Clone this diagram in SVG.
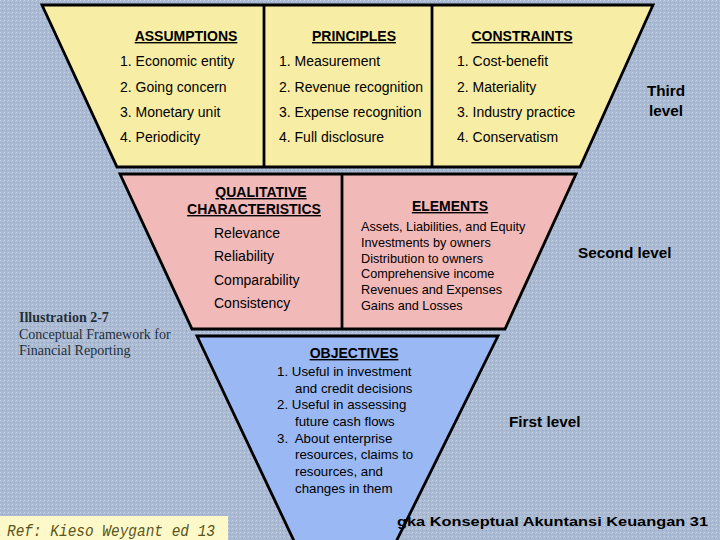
<svg xmlns="http://www.w3.org/2000/svg" width="720" height="540" viewBox="0 0 720 540">
<defs>
<pattern id="tex" width="4" height="4" patternUnits="userSpaceOnUse">
<rect width="4" height="4" fill="#abbad3"/>
<rect x="0" y="0" width="1" height="1" fill="#c6d1e3"/>
<rect x="2" y="2" width="1" height="1" fill="#93a4c0"/>
<rect x="3" y="1" width="1" height="1" fill="#bcc8dc"/>
</pattern>
</defs>
<style>
.shape{stroke:#000;stroke-width:2.8;stroke-linejoin:miter}
.hd{font-family:"Liberation Sans",Arial,sans-serif;font-size:14px;font-weight:bold;text-decoration:underline;fill:#000}
.it{font-family:"Liberation Sans",Arial,sans-serif;font-size:14px;fill:#000}
.el{font-family:"Liberation Sans",Arial,sans-serif;font-size:12.7px;fill:#000}
.ob{font-family:"Liberation Sans",Arial,sans-serif;font-size:13.3px;fill:#000;white-space:pre}
.lv{font-family:"Liberation Sans",Arial,sans-serif;font-size:15.3px;font-weight:bold;fill:#000}
.ser{font-family:"Liberation Serif","Times New Roman",serif;font-size:14px;fill:#1f2f3a}
</style>
<rect width="720" height="540" fill="url(#tex)"/>

<g id="third-level">
<polygon class="shape" points="42,5 653,5 580,167 117,167" fill="#f8eda4"/>
<line class="shape" x1="264" y1="5" x2="264" y2="167"/>
<line class="shape" x1="432" y1="5" x2="432" y2="167"/>
<text class="hd" x="186" y="41" text-anchor="middle">ASSUMPTIONS</text>
<text class="it" x="120" y="66">1. Economic entity</text>
<text class="it" x="120" y="92">2. Going concern</text>
<text class="it" x="120" y="117">3. Monetary unit</text>
<text class="it" x="120" y="142">4. Periodicity</text>
<text class="hd" x="354" y="41" text-anchor="middle">PRINCIPLES</text>
<text class="it" x="279" y="66">1. Measurement</text>
<text class="it" x="279" y="92">2. Revenue recognition</text>
<text class="it" x="279" y="117">3. Expense recognition</text>
<text class="it" x="279" y="142">4. Full disclosure</text>
<text class="hd" x="522" y="41" text-anchor="middle">CONSTRAINTS</text>
<text class="it" x="457" y="66">1. Cost-benefit</text>
<text class="it" x="457" y="92">2. Materiality</text>
<text class="it" x="457" y="117">3. Industry practice</text>
<text class="it" x="457" y="142">4. Conservatism</text>
<text class="lv" x="666" y="96" text-anchor="middle">Third</text>
<text class="lv" x="666" y="116" text-anchor="middle">level</text>
</g>

<g id="second-level">
<polygon class="shape" points="120,174 576,174 505,329 192,329" fill="#f2b9b9"/>
<line class="shape" x1="342" y1="174" x2="342" y2="329"/>
<text class="hd" x="261" y="197" text-anchor="middle">QUALITATIVE</text>
<text class="hd" x="254" y="214" text-anchor="middle">CHARACTERISTICS</text>
<text class="it" x="214" y="238">Relevance</text>
<text class="it" x="214" y="261">Reliability</text>
<text class="it" x="214" y="285">Comparability</text>
<text class="it" x="214" y="308">Consistency</text>
<text class="hd" x="450" y="211" text-anchor="middle">ELEMENTS</text>
<text class="el" x="361" y="231">Assets, Liabilities, and Equity</text>
<text class="el" x="361" y="247">Investments by owners</text>
<text class="el" x="361" y="263">Distribution to owners</text>
<text class="el" x="361" y="278">Comprehensive income</text>
<text class="el" x="361" y="294">Revenues and Expenses</text>
<text class="el" x="361" y="310">Gains and Losses</text>
<text class="lv" x="578" y="258">Second level</text>
</g>

<g id="illustration">
<text class="ser" x="19" y="322" font-weight="bold" fill="#1d4a5c">Illustration 2-7</text>
<text class="ser" x="19" y="339">Conceptual Framework for</text>
<text class="ser" x="19" y="355">Financial Reporting</text>
</g>

<g id="first-level">
<polygon class="shape" points="197,336 498,336 387,560 303,560" fill="#99b8f4"/>
<text class="hd" x="354" y="358" text-anchor="middle">OBJECTIVES</text>
<text class="ob" x="277" y="376">1. Useful in investment</text>
<text class="ob" x="295" y="393">and credit decisions</text>
<text class="ob" x="277" y="409">2. Useful in assessing</text>
<text class="ob" x="295" y="426">future cash flows</text>
<text class="ob" x="277" y="443">3.  About enterprise</text>
<text class="ob" x="295" y="459">resources, claims to</text>
<text class="ob" x="295" y="476">resources, and</text>
<text class="ob" x="295" y="493">changes in them</text>
<text class="lv" x="509" y="427">First level</text>
</g>

<g id="footer-title">
<text x="397" y="526" font-family="Liberation Sans,Arial,sans-serif" font-size="13.5px" font-weight="bold" fill="#000" textLength="311" lengthAdjust="spacingAndGlyphs">gka Konseptual Akuntansi Keuangan  31</text>
</g>

<g id="reference">
<rect x="0" y="516" width="228" height="26" fill="#fdf9c9"/>
<text x="7" y="536" font-family="Liberation Mono,'Courier New',monospace" font-size="16px" font-style="italic" fill="#5a5420" textLength="208" lengthAdjust="spacingAndGlyphs">Ref: Kieso Weygant ed 13</text>
</g>

<g id="connectors"></g>
</svg>
